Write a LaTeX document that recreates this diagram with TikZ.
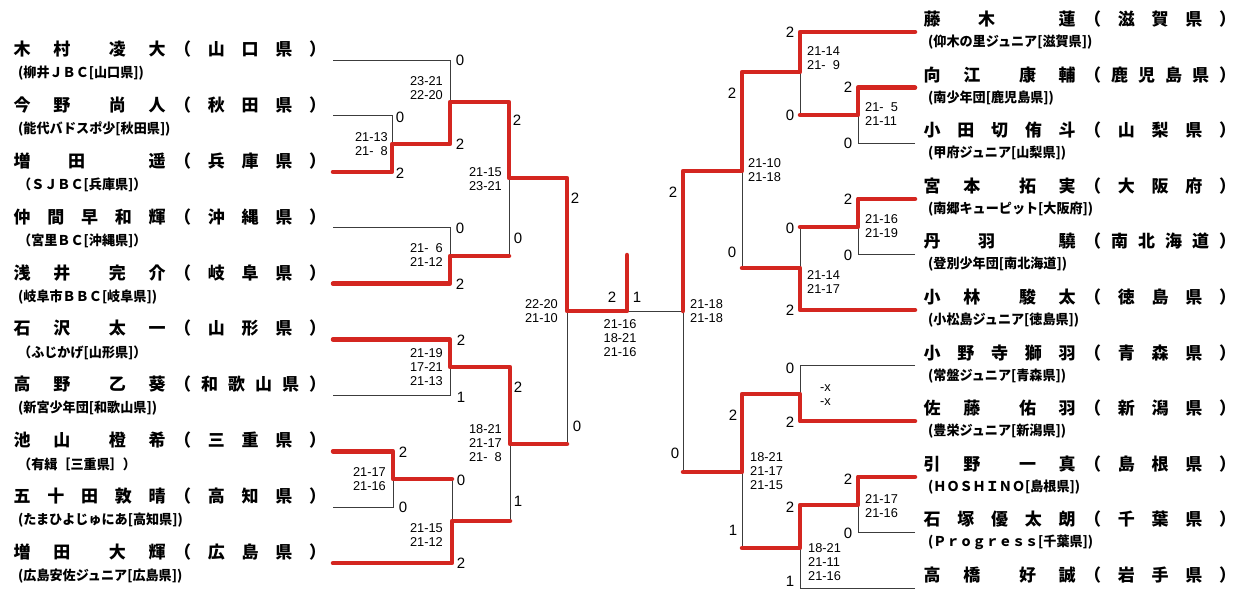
\documentclass[tikz,border=0pt]{standalone}
\usepackage{fontspec}
\newfontfamily\jpfont{Noto Sans CJK JP}
\newfontfamily\clubfont{Noto Sans CJK JP}[FakeStretch=0.97]
\newfontfamily\numfont{Liberation Sans}

\definecolor{winred}{RGB}{212,38,32}
\definecolor{linegray}{RGB}{60,60,60}

\newcommand{\gap}{\hspace{\stretch{1.7}}}
\newcommand{\entry}[2]{\makebox[152pt]{#1}\hspace{8.5pt}\makebox[152pt]{#2}}

\tikzset{
    player/.style={inner sep=0pt, anchor=west, font=\jpfont\bfseries\fontsize{17}{17}\selectfont},
    club/.style={inner sep=0pt, anchor=west, font=\clubfont\bfseries\fontsize{13.5}{14}\selectfont},
    games/.style={inner sep=0pt, font=\numfont\fontsize{15}{15}\selectfont},
    scores/.style={inner sep=0pt, font=\numfont\fontsize{12.8}{13.8}\selectfont},
    lose/.style={draw=linegray, line width=1pt},
    win/.style={draw=winred, line width=4.5pt, line cap=round, line join=round},
}

\begin{document}
\begin{tikzpicture}[x=1pt, y=-1pt]

    \useasboundingbox (0,0) rectangle (1241,590);

    % left half
    \foreach \pname/\ppref/\pclub [count=\i from 0] in {
        {木\hfill 村\gap 凌\hfill 大}/{（\hfill 山\hfill 口\hfill 県\hfill ）}/{(柳井ＪＢＣ[山口県])},
        {今\hfill 野\gap 尚\hfill 人}/{（\hfill 秋\hfill 田\hfill 県\hfill ）}/{(能代バドスポ少[秋田県])},
        {増\hfill 田\gap 遥}/{（\hfill 兵\hfill 庫\hfill 県\hfill ）}/{（ＳＪＢＣ[兵庫県]）},
        {仲\hfill 間\hfill 早\hfill 和\hfill 輝}/{（\hfill 沖\hfill 縄\hfill 県\hfill ）}/{（宮里ＢＣ[沖縄県]）},
        {浅\hfill 井\gap 完\hfill 介}/{（\hfill 岐\hfill 阜\hfill 県\hfill ）}/{(岐阜市ＢＢＣ[岐阜県])},
        {石\hfill 沢\gap 太\hfill 一}/{（\hfill 山\hfill 形\hfill 県\hfill ）}/{（ふじかげ[山形県]）},
        {高\hfill 野\gap 乙\hfill 葵}/{（\hfill 和\hfill 歌\hfill 山\hfill 県\hfill ）}/{(新宮少年団[和歌山県])},
        {池\hfill 山\gap 橙\hfill 希}/{（\hfill 三\hfill 重\hfill 県\hfill ）}/{（有緝［三重県］）},
        {五\hfill 十\hfill 田\hfill 敦\hfill 晴}/{（\hfill 高\hfill 知\hfill 県\hfill ）}/{(たまひよじゅにあ[高知県])},
        {増\hfill 田\gap 大\hfill 輝}/{（\hfill 広\hfill 島\hfill 県\hfill ）}/{(広島安佐ジュニア[広島県])}%
    }{
        \node[player] (pl\i) at (13.5, 49+55.9*\i) {\entry{\pname}{\ppref}};
        \node[club]   (cl\i) at (18, 73+55.9*\i)   {\pclub};
        \coordinate (la\i) at (333, 60+55.9*\i);
    }

    % right half
    \foreach \pname/\ppref/\pclub [count=\i from 0] in {
        {藤\hfill 木\gap 蓮}/{（\hfill 滋\hfill 賀\hfill 県\hfill ）}/{(仰木の里ジュニア[滋賀県])},
        {向\hfill 江\gap 康\hfill 輔}/{（\hfill 鹿\hfill 児\hfill 島\hfill 県\hfill ）}/{(南少年団[鹿児島県])},
        {小\hfill 田\hfill 切\hfill 侑\hfill 斗}/{（\hfill 山\hfill 梨\hfill 県\hfill ）}/{(甲府ジュニア[山梨県])},
        {宮\hfill 本\gap 拓\hfill 実}/{（\hfill 大\hfill 阪\hfill 府\hfill ）}/{(南郷キューピット[大阪府])},
        {丹\hfill 羽\gap 驍}/{（\hfill 南\hfill 北\hfill 海\hfill 道\hfill ）}/{(登別少年団[南北海道])},
        {小\hfill 林\gap 駿\hfill 太}/{（\hfill 徳\hfill 島\hfill 県\hfill ）}/{(小松島ジュニア[徳島県])},
        {小\hfill 野\hfill 寺\hfill 獅\hfill 羽}/{（\hfill 青\hfill 森\hfill 県\hfill ）}/{(常盤ジュニア[青森県])},
        {佐\hfill 藤\gap 佑\hfill 羽}/{（\hfill 新\hfill 潟\hfill 県\hfill ）}/{(豊栄ジュニア[新潟県])},
        {引\hfill 野\gap 一\hfill 真}/{（\hfill 島\hfill 根\hfill 県\hfill ）}/{(ＨＯＳＨＩＮＯ[島根県])},
        {石\hfill 塚\hfill 優\hfill 太\hfill 朗}/{（\hfill 千\hfill 葉\hfill 県\hfill ）}/{(Ｐｒｏｇｒｅｓｓ[千葉県])}%
    }{
        \node[player] (pr\i) at (923.5, 19+55.6*\i) {\entry{\pname}{\ppref}};
        \node[club]   (cr\i) at (928, 42+55.6*\i)   {\pclub};
        \coordinate (ra\i) at (915, 32+55.6*\i);
    }
    \node[player] (pr10) at (923.5, 575) {\entry{高\hfill 橋\gap 好\hfill 誠}{（\hfill 岩\hfill 手\hfill 県\hfill ）}};
    \coordinate (ra10) at (915, 588);

    % match points
    \coordinate (m1) at (392,144);
    \coordinate (m2) at (450,102);
    \coordinate (m3) at (450,256);
    \coordinate (m4) at (509,178);
    \coordinate (m5) at (450,367);
    \coordinate (m6) at (393,479);
    \coordinate (m7) at (452,521);
    \coordinate (m8) at (510,444);
    \coordinate (m9) at (567,311);
    \coordinate (fin) at (627,311);
    \coordinate (top) at (627,255);
    \coordinate (n1) at (858,115);
    \coordinate (n2) at (800,72);
    \coordinate (n3) at (858,227);
    \coordinate (n4) at (800,268);
    \coordinate (n5) at (742,171);
    \coordinate (n6) at (800,394);
    \coordinate (n7) at (858,505);
    \coordinate (n8) at (800,548);
    \coordinate (n9) at (742,472);
    \coordinate (n10) at (683,311);

    % losers
    \draw[lose] (la0) -| (m2);
    \draw[lose] (la1) -| (m1);
    \draw[lose] (la3) -| (m3);
    \draw[lose] (m3) -| (m4);
    \draw[lose] (la6) -| (m5);
    \draw[lose] (la8) -| (m6);
    \draw[lose] (m6) -| (m7);
    \draw[lose] (m7) -| (m8);
    \draw[lose] (m8) -| (m9);
    \draw[lose] (fin) -- (n10);
    \draw[lose] (ra2) -| (n1);
    \draw[lose] (n1) -| (n2);
    \draw[lose] (ra4) -| (n3);
    \draw[lose] (n3) -| (n4);
    \draw[lose] (n4) -| (n5);
    \draw[lose] (ra6) -| (n6);
    \draw[lose] (ra9) -| (n7);
    \draw[lose] (ra10) -| (n8);
    \draw[lose] (n8) -| (n9);
    \draw[lose] (n9) -| (n10);

    % winners
    \draw[win] (la2) -| (m1) -| (m2) -| (m4) -| (m9) -- (fin) -- (top);
    \draw[win] (la4) -| (m3) -- (m3 -| m4);
    \draw[win] (la5) -| (m5) -| (m8) -- (m8 -| m9);
    \draw[win] (la7) -| (m6) -- (m6 -| m7);
    \draw[win] (la9) -| (m7) -- (m7 -| m8);
    \draw[win] (ra0) -| (n2) -| (n5) -| (n10);
    \draw[win] (ra1) -| (n1) -- (n1 -| n2);
    \draw[win] (ra3) -| (n3) -- (n3 -| n4);
    \draw[win] (ra5) -| (n4) -- (n4 -| n5);
    \draw[win] (ra7) -| (n6) -| (n9) -- (n9 -| n10);
    \draw[win] (ra8) -| (n7) -| (n8) -- (n8 -| n9);

    % games won
    \foreach \x/\y/\g [count=\i] in {460/60/0, 400/117/0, 400/173/2, 460/144/2, 460/228/0,
        460/284/2, 517/120/2, 518/238/0, 575/198/2, 612/297/2, 637/297/1, 461/340/2,
        461/397/1, 403/452/2, 403/507/0, 461/480/0, 461/563/2, 518/387/2, 518/501/1, 577/426/0}
        \node[games] (gl\i) at (\x,\y) {\g};
    \foreach \x/\y/\g [count=\i] in {790/32/2, 848/87/2, 848/143/0, 790/115/0, 732/93/2,
        848/199/2, 848/255/0, 790/228/0, 790/310/2, 732/252/0, 673/192/2, 675/453/0,
        790/368/0, 790/422/2, 733/415/2, 848/479/2, 848/533/0, 790/507/2, 790/581/1, 733/530/1}
        \node[games] (gr\i) at (\x,\y) {\g};

    % set scores
    \foreach \x/\y/\s [count=\i] in {388/144/{21-13\\21-\phantom{1}8}, 443/88/{23-21\\22-20},
        443/255/{21-\phantom{1}6\\21-12}, 502/179/{21-15\\23-21}, 443/367/{21-19\\17-21\\21-13},
        386/479/{21-17\\21-16}, 443/535/{21-15\\21-12}, 502/443/{18-21\\21-17\\21-\phantom{1}8},
        558/311/{22-20\\21-10}}
        \node[scores, anchor=east, align=right] (sl\i) at (\x,\y) {\s};
    \foreach \x/\y/\s [count=\i] in {865/114/{21-\phantom{1}5\\21-11}, 807/58/{21-14\\21-\phantom{1}9},
        865/226/{21-16\\21-19}, 807/282/{21-14\\21-17}, 748/170/{21-10\\21-18}, 820/395/{-x\\-x},
        865/506/{21-17\\21-16}, 808/562/{18-21\\21-11\\21-16}, 750/471/{18-21\\21-17\\21-15},
        690/311/{21-18\\21-18}}
        \node[scores, anchor=west, align=left] (sr\i) at (\x,\y) {\s};
    \node[scores, align=center] (sf) at (620,338) {21-16\\18-21\\21-16};

\end{tikzpicture}
\end{document}
